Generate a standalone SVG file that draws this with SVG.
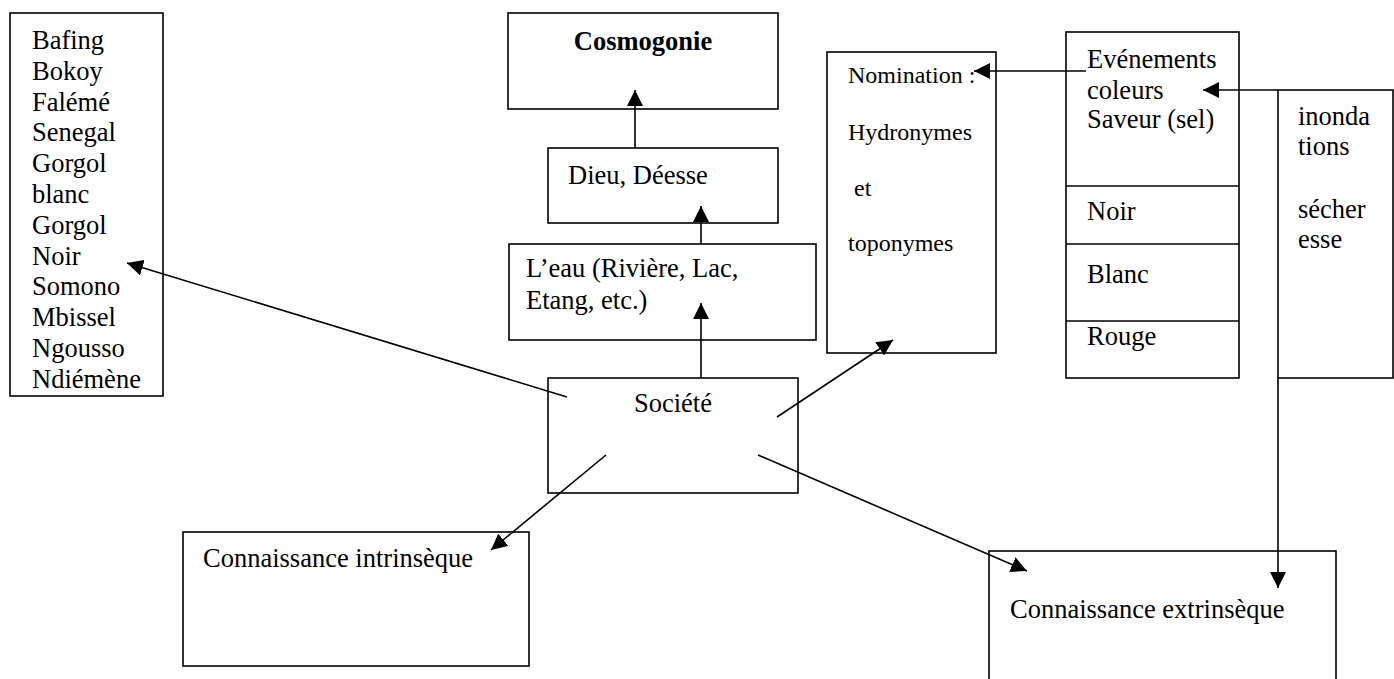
<svg xmlns="http://www.w3.org/2000/svg" width="1394" height="679" viewBox="0 0 1394 679">
<style>
.box{fill:#fff;stroke:#000;stroke-width:1.6}
.t{font-family:"Liberation Serif","Times New Roman",serif;font-size:26.5px;fill:#000}
.s{font-size:24px}
.b{font-weight:bold}
.c{stroke:#000;stroke-width:1.6;fill:none;marker-end:url(#ah)}
.ln{stroke:#000;stroke-width:1.6;fill:none}
</style>
<defs>
<marker id="ah" markerUnits="userSpaceOnUse" markerWidth="17" markerHeight="16" refX="16" refY="8" orient="auto">
<path d="M0,0 L16,8 L0,16 z" fill="#000"/>
</marker>
</defs>
<rect width="1394" height="679" fill="#fff"/>

<g id="rivers">
<rect class="box" x="10" y="13" width="153" height="383"/>
<text class="t" x="32" y="49">Bafing</text>
<text class="t" x="32" y="80">Bokoy</text>
<text class="t" x="32" y="111">Falémé</text>
<text class="t" x="32" y="141">Senegal</text>
<text class="t" x="32" y="172">Gorgol</text>
<text class="t" x="32" y="203">blanc</text>
<text class="t" x="32" y="234">Gorgol</text>
<text class="t" x="32" y="265">Noir</text>
<text class="t" x="32" y="295">Somono</text>
<text class="t" x="32" y="326">Mbissel</text>
<text class="t" x="32" y="357">Ngousso</text>
<text class="t" x="32" y="388">Ndiémène</text>
</g>

<g id="cosmogonie">
<rect class="box" x="508" y="13" width="270" height="96"/>
<text class="t b" x="643" y="50" text-anchor="middle">Cosmogonie</text>
</g>

<g id="dieu">
<rect class="box" x="548" y="148" width="230" height="75"/>
<text class="t" x="568" y="184">Dieu, Déesse</text>
</g>

<g id="eau">
<rect class="box" x="509" y="244" width="307" height="96"/>
<text class="t" x="526" y="277">L’eau (Rivière, Lac,</text>
<text class="t" x="526" y="309">Etang, etc.)</text>
</g>

<g id="societe">
<rect class="box" x="548" y="378" width="250" height="115"/>
<text class="t" x="673" y="412" text-anchor="middle">Société</text>
</g>

<g id="nomination">
<rect class="box" x="827" y="52" width="169" height="301"/>
<text class="t s" x="848" y="83">Nomination :</text>
<text class="t s" x="848" y="140">Hydronymes</text>
<text class="t s" x="848" y="196" xml:space="preserve"> et</text>
<text class="t s" x="848" y="251">toponymes</text>
</g>

<g id="evenements">
<rect class="box" x="1066" y="32" width="173" height="346"/>
<line class="ln" x1="1066" y1="186" x2="1239" y2="186"/>
<line class="ln" x1="1066" y1="244" x2="1239" y2="244"/>
<line class="ln" x1="1066" y1="321" x2="1239" y2="321"/>
<text class="t" x="1087" y="68">Evénements</text>
<text class="t" x="1087" y="99">coleurs</text>
<text class="t" x="1087" y="128">Saveur (sel)</text>
<text class="t" x="1087" y="220">Noir</text>
<text class="t" x="1087" y="283">Blanc</text>
<text class="t" x="1087" y="345">Rouge</text>
</g>

<g id="inondations">
<rect class="box" x="1278" y="90" width="115" height="288"/>
<text class="t" x="1298" y="125">inonda</text>
<text class="t" x="1298" y="155">tions</text>
<text class="t" x="1298" y="218">sécher</text>
<text class="t" x="1298" y="248">esse</text>
</g>

<g id="intrinseque">
<rect class="box" x="183" y="532" width="346" height="134"/>
<text class="t" x="203" y="567">Connaissance intrinsèque</text>
</g>

<g id="extrinseque">
<rect class="box" x="989" y="551" width="347" height="160"/>
<text class="t" x="1010" y="618">Connaissance extrinsèque</text>
</g>

<g id="connectors">
<line class="c" x1="635" y1="148" x2="635" y2="90"/>
<line class="c" x1="701" y1="244" x2="701" y2="206"/>
<line class="c" x1="701" y1="378" x2="701" y2="303"/>
<line class="c" x1="567" y1="397" x2="127" y2="263"/>
<line class="c" x1="606" y1="455" x2="491" y2="550"/>
<line class="c" x1="777" y1="417" x2="893" y2="340"/>
<line class="c" x1="758" y1="455" x2="1027" y2="571"/>
<line class="c" x1="1086" y1="71" x2="974" y2="71"/>
<line class="c" x1="1278" y1="90" x2="1203" y2="90"/>
<line class="c" x1="1278" y1="378" x2="1278" y2="588"/>
</g>
</svg>
